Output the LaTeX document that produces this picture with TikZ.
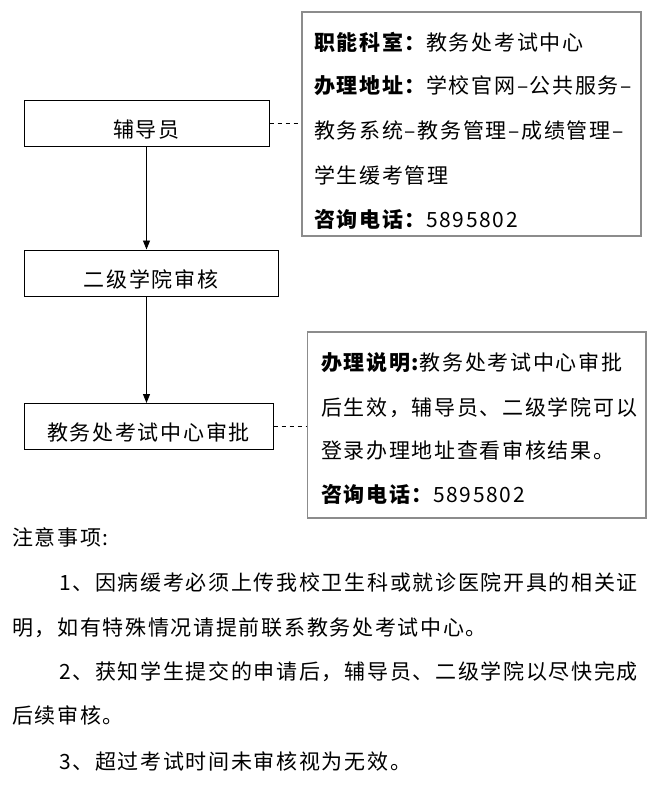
\documentclass[tikz,border=0pt]{standalone}
\usepackage{fontspec}
\newfontfamily\cjk[LetterSpace=8.0]{Noto Sans CJK SC}
\usetikzlibrary{arrows.meta, positioning}
\definecolor{boxgray}{HTML}{8C8C8C}

\begin{document}
\begin{tikzpicture}[
    x=1pt, y=-1pt, % <--- coordenadas en px, y hacia abajo
    font=\cjk\fontsize{21}{21}\selectfont,
    % Estilos de cajas
    stepbox/.style={
        draw=black, line width=1pt,
        minimum height=46pt, inner sep=0pt,
        text height=28pt, text depth=0pt
    },
    infobox/.style={
        draw=boxgray, line width=1.2pt, inner sep=0pt
    },
    txtline/.style={
        anchor=base west, inner sep=0pt
    },
    % Estilo de las flechas
    arrow/.style={
        -{Triangle[length=9pt, width=7pt]}, line width=0.8pt
    },
    dashlink/.style={
        dash pattern=on 4pt off 4pt, line width=0.8pt
    }
]
    \useasboundingbox (0,0) rectangle (659,785);

    % 1. Pasos del proceso
    \node[stepbox, minimum width=245pt] (fudao)  at (146.5,123)   {辅导员};
    \node[stepbox, minimum width=254pt] (erji)   at (151,273)     {二级学院审核};
    \node[stepbox, minimum width=249pt] (jiaowu) at (148.5,426.5) {教务处考试中心审批};

    % 2. Cajas de informacion
    \node[infobox, minimum width=339pt, minimum height=224pt] (zhineng) at (471.5,124) {};
    \node[infobox, minimum width=338.5pt, minimum height=186pt] (shuoming) at (476.75,425) {};

    % 3. Texto de la primera caja
    \node[txtline] (zn1) at (314,50)    {\bfseries 职能科室：}; 
    \node[txtline] (zn1b) at (zn1.base east) {教务处考试中心};
    \node[txtline] (zn2) at (314,93.5)  {\bfseries 办理地址：};
    \node[txtline] (zn2b) at (zn2.base east) {学校官网–公共服务–};
    \node[txtline] (zn3) at (314,138)   {教务系统–教务管理–成绩管理–};
    \node[txtline] (zn4) at (314,183)   {学生缓考管理};
    \node[txtline] (zn5) at (314,227)   {\bfseries 咨询电话：};
    \node[txtline] (zn5b) at (zn5.base east) {5895802};

    % 4. Texto de la segunda caja
    \node[txtline] (sm1) at (321,370)   {\bfseries 办理说明:};
    \node[txtline] (sm1b) at (sm1.base east) {教务处考试中心审批};
    \node[txtline] (sm2) at (321,415)   {后生效，辅导员、二级学院可以};
    \node[txtline] (sm3) at (321,458)   {登录办理地址查看审核结果。};
    \node[txtline] (sm4) at (321,502)   {\bfseries 咨询电话：};
    \node[txtline] (sm4b) at (sm4.base east) {5895802};

    % 5. Notas
    \node[txtline] (zy0) at (12,545.5)  {注意事项:};
    \node[txtline] (zy1) at (59,590)    {1、因病缓考必须上传我校卫生科或就诊医院开具的相关证};
    \node[txtline] (zy2) at (12,635)    {明，如有特殊情况请提前联系教务处考试中心。};
    \node[txtline] (zy3) at (59,679)    {2、获知学生提交的申请后，辅导员、二级学院以尽快完成};
    \node[txtline] (zy4) at (12,723)    {后续审核。};
    \node[txtline] (zy5) at (59,769)    {3、超过考试时间未审核视为无效。};

    % 6. Flechas entre pasos
    \draw[arrow] (fudao.south) -- (fudao.south |- erji.north);
    \draw[arrow] (fudao.south |- erji.south) -- (fudao.south |- jiaowu.north);

    % 7. Lineas discontinuas hacia las cajas
    \draw[dashlink] (fudao.east) -- (fudao.east -| zhineng.west);
    \draw[dashlink] (jiaowu.east) -- (jiaowu.east -| shuoming.west);

\end{tikzpicture}
\end{document}
